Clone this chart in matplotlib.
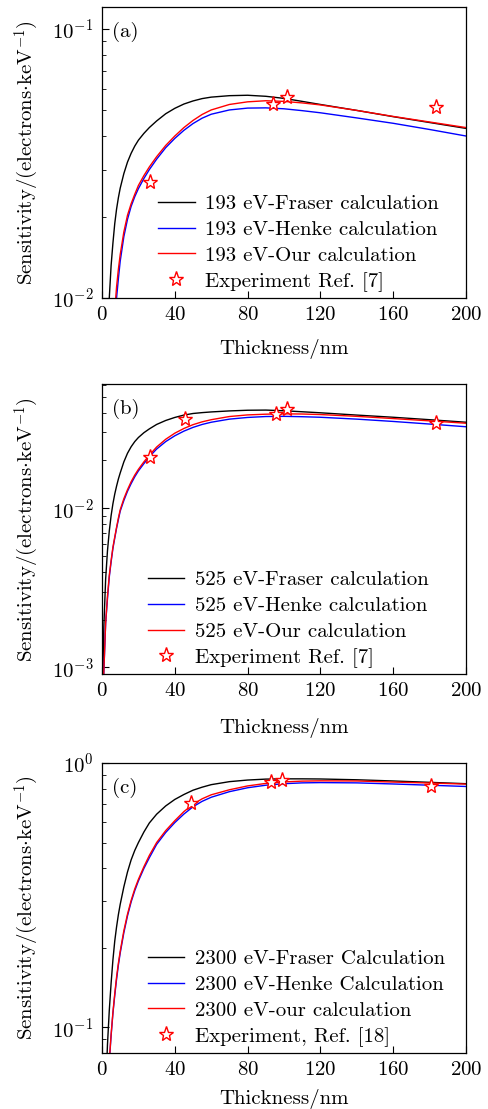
import numpy as np
import matplotlib
matplotlib.use("Agg")
import matplotlib.pyplot as plt
from matplotlib.ticker import NullFormatter, LogLocator

plt.rcParams['font.family'] = ['cmr10', 'DejaVu Serif']
plt.rcParams['mathtext.fontset'] = 'cm'
plt.rcParams['axes.formatter.use_mathtext'] = True
plt.rcParams['font.size'] = 15

# thickness grid (nm) shared by all curves
thickness = [0.5, 1, 2, 3, 4, 5, 6, 7, 8, 9, 10, 12, 14, 16, 18, 20, 23, 26,
             30, 35, 40, 45, 50, 55, 60, 70, 80, 90, 100, 110, 120, 140, 160,
             180, 200]

# (a) 193 eV
fraser_193 = [0.0008, 0.0017, 0.0037, 0.0068, 0.0100, 0.0132, 0.0160, 0.0189,
              0.0214, 0.0236, 0.0256, 0.0290, 0.0320, 0.0345, 0.0367, 0.0386,
              0.0409, 0.0430, 0.0455, 0.0484, 0.0507, 0.0526, 0.0540, 0.0551,
              0.0558, 0.0565, 0.0567, 0.0562, 0.0552, 0.0538, 0.0524, 0.0498,
              0.0472, 0.0449, 0.0427]
henke_193 = [0.0001, 0.0003, 0.0008, 0.0017, 0.0029, 0.0043, 0.0060, 0.0080,
             0.0100, 0.0118, 0.0137, 0.0169, 0.0196, 0.0219, 0.0238, 0.0255,
             0.0278, 0.0300, 0.0328, 0.0362, 0.0392, 0.0420, 0.0445, 0.0466,
             0.0482, 0.0500, 0.0508, 0.0509, 0.0505, 0.0497, 0.0488, 0.0467,
             0.0446, 0.0423, 0.0400]
ours_193 = [0.0002, 0.0004, 0.0010, 0.0020, 0.0033, 0.0048, 0.0066, 0.0090,
            0.0110, 0.0128, 0.0145, 0.0176, 0.0203, 0.0224, 0.0243, 0.0262,
            0.0285, 0.0307, 0.0335, 0.0369, 0.0400, 0.0430, 0.0457, 0.0481,
            0.0500, 0.0524, 0.0536, 0.0541, 0.0538, 0.0531, 0.0522, 0.0498,
            0.0473, 0.0451, 0.0430]
exp_t_193 = [26.4, 94.1, 101.5, 183.5]
exp_s_193 = [0.0271, 0.0526, 0.0557, 0.0512]

# (b) 525 eV
fraser_525 = [0.0009, 0.0018, 0.0036, 0.0054, 0.0072, 0.0090, 0.0107, 0.0123,
              0.0138, 0.0153, 0.0167, 0.0196, 0.0222, 0.0244, 0.0263, 0.0279,
              0.0299, 0.0316, 0.0337, 0.0357, 0.0373, 0.0386, 0.0395, 0.0400,
              0.0404, 0.0410, 0.0414, 0.0415, 0.0411, 0.0405, 0.0399, 0.0386,
              0.0374, 0.0361, 0.0348]
henke_525 = [0.0005, 0.00093, 0.0019, 0.0027, 0.0037, 0.0046, 0.0056, 0.0065,
             0.0075, 0.0085, 0.0096, 0.0112, 0.0128, 0.0143, 0.0158, 0.0172,
             0.0191, 0.0211, 0.0236, 0.0263, 0.0286, 0.0306, 0.0323, 0.0337,
             0.0348, 0.0364, 0.0373, 0.0378, 0.0379, 0.0377, 0.0374, 0.0364,
             0.0352, 0.0339, 0.0326]
ours_525 = [0.0005, 0.00095, 0.0019, 0.0028, 0.0038, 0.0047, 0.0057, 0.0066,
            0.0076, 0.0087, 0.0098, 0.0115, 0.0131, 0.0147, 0.0162, 0.0176,
            0.0196, 0.0216, 0.0243, 0.0272, 0.0297, 0.0318, 0.0336, 0.0350,
            0.0361, 0.0378, 0.0387, 0.0391, 0.0393, 0.0392, 0.0389, 0.0379,
            0.0367, 0.0355, 0.0343]
exp_t_525 = [26.4, 45.6, 95.4, 101.8, 183.5]
exp_s_525 = [0.0209, 0.0363, 0.0391, 0.0421, 0.0344]

# (c) 2300 eV
fraser_2300 = [0.014, 0.028, 0.057, 0.086, 0.116, 0.147, 0.180, 0.212, 0.240,
               0.267, 0.292, 0.340, 0.387, 0.430, 0.467, 0.500, 0.548, 0.593,
               0.640, 0.688, 0.728, 0.760, 0.789, 0.810, 0.828, 0.850, 0.862,
               0.869, 0.871, 0.871, 0.870, 0.864, 0.855, 0.845, 0.835]
henke_2300 = [0.009, 0.018, 0.036, 0.055, 0.074, 0.093, 0.113, 0.132, 0.152,
              0.172, 0.191, 0.228, 0.264, 0.298, 0.329, 0.358, 0.399, 0.438,
              0.492, 0.546, 0.595, 0.641, 0.683, 0.716, 0.742, 0.779, 0.806,
              0.824, 0.835, 0.841, 0.843, 0.841, 0.833, 0.824, 0.815]
ours_2300 = [0.009, 0.018, 0.037, 0.056, 0.075, 0.094, 0.114, 0.134, 0.155,
             0.175, 0.194, 0.232, 0.268, 0.302, 0.334, 0.363, 0.405, 0.447,
             0.500, 0.555, 0.605, 0.655, 0.698, 0.732, 0.758, 0.792, 0.819,
             0.837, 0.848, 0.854, 0.856, 0.855, 0.847, 0.840, 0.832]
exp_t_2300 = [48.9, 92.7, 99.1, 180.6]
exp_s_2300 = [0.705, 0.844, 0.859, 0.820]

panels = [
    dict(tag='(a)', fr=fraser_193, he=henke_193, ou=ours_193,
         et=exp_t_193, es=exp_s_193, ylim=(0.01, 0.1207),
         labels=['193 eV-Fraser calculation', '193 eV-Henke calculation',
                 '193 eV-Our calculation', 'Experiment Ref. [7]'],
         rect=[0.2086, 0.7313, 0.7444, 0.2624], leg_x=0.154, xpad=10.5),
    dict(tag='(b)', fr=fraser_525, he=henke_525, ou=ours_525,
         et=exp_t_525, es=exp_s_525, ylim=(9.08e-4, 0.0605),
         labels=['525 eV-Fraser calculation', '525 eV-Henke calculation',
                 '525 eV-Our calculation', 'Experiment Ref. [7]'],
         rect=[0.2086, 0.3922, 0.7444, 0.2615], leg_x=0.126, xpad=12.5),
    dict(tag='(c)', fr=fraser_2300, he=henke_2300, ou=ours_2300,
         et=exp_t_2300, es=exp_s_2300, ylim=(0.08, 1.0),
         labels=['2300 eV-Fraser Calculation', '2300 eV-Henke Calculation',
                 '2300 eV-our calculation', 'Experiment, Ref. [18]'],
         rect=[0.2086, 0.0505, 0.7444, 0.2615], leg_x=0.126, xpad=7),
]

fig = plt.figure(figsize=(4.89, 11.09), dpi=100)

for p in panels:
    ax = fig.add_axes(p['rect'])
    ax.plot(thickness, p['fr'], color='black', lw=1.0, label=p['labels'][0])
    ax.plot(thickness, p['he'], color='blue', lw=1.0, label=p['labels'][1])
    ax.plot(thickness, p['ou'], color='red', lw=1.0, label=p['labels'][2])
    ax.plot(p['et'], p['es'], ls='none', marker='*', ms=11, mfc='white',
            mec='red', mew=1.0, label=p['labels'][3])
    ax.set_yscale('log')
    ax.set_xlim(0, 200)
    ax.set_ylim(*p['ylim'])
    ax.set_xticks([0, 40, 80, 120, 160, 200])
    ax.yaxis.set_minor_locator(LogLocator(base=10, subs=np.arange(2, 10)))
    ax.yaxis.set_minor_formatter(NullFormatter())
    ax.tick_params(which='both', direction='in', top=False, right=False)
    ax.tick_params(which='major', length=5, pad=6)
    ax.tick_params(which='minor', length=3)
    for s in ax.spines.values():
        s.set_linewidth(0.9)
    ax.set_xlabel('Thickness/nm', labelpad=p['xpad'])
    ax.set_ylabel(r'Sensitivity/(electrons$\cdot$keV$^{-1}$)', labelpad=8)
    ax.text(0.027, 0.915, p['tag'], transform=ax.transAxes, va='center')
    ax.legend(loc='lower left', bbox_to_anchor=(p['leg_x'], 0.022),
              frameon=False, handlelength=1.75, handletextpad=0.5,
              labelspacing=0.34, borderpad=0, borderaxespad=0)

fig.savefig('out.png', dpi=100)
